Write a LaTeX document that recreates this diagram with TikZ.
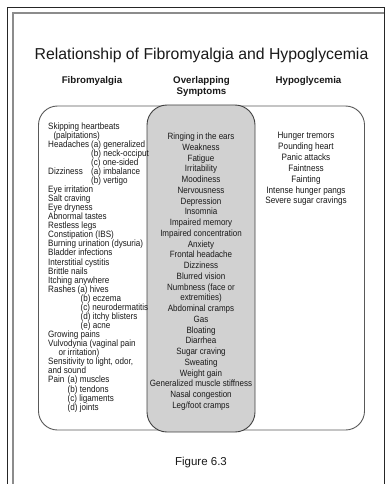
\documentclass[tikz,border=0pt]{standalone}
\usepackage{fontspec}
\setmainfont{Liberation Sans}
\newfontfamily\narrowfont{Liberation Sans}[FakeStretch=0.88]
\begin{document}
\begin{tikzpicture}[x=1pt,y=-1pt,
  txt/.style={inner sep=0pt,text=black!90},
  lcol/.style={txt,anchor=base west,font=\narrowfont\fontsize{9.2}{9.1}\selectfont},
  mcol/.style={txt,anchor=base,font=\narrowfont\fontsize{9.1}{10}\selectfont},
  rcol/.style={txt,anchor=base,font=\narrowfont\fontsize{9.3}{10}\selectfont},
  head/.style={txt,anchor=base,font=\bfseries\fontsize{9.7}{11}\selectfont},
  frameline/.style={black!85,line width=0.7pt},
  framegray/.style={black!45,line width=2pt},
  outerbox/.style={draw=black!65,line width=0.9pt,rounded corners=19pt},
  midbox/.style={draw=black!75,fill=black!18,line width=0.9pt,rounded corners=20pt},
]
\useasboundingbox (0,0) rectangle (386,484);
% frame
\draw[frameline] (7,484) -- (7,7) -- (384.5,7) -- (384.5,484);
\draw[framegray] (13,484) -- (13,13) -- (384,13);
% boxes
\draw[outerbox] (38.5,106) rectangle (364.5,430);
\draw[midbox] (147,105) rectangle (255,432);
% title and headers
\node[txt,anchor=base,font=\fontsize{15.8}{18}\selectfont] (title) at (201.5,59.5) {Relationship of Fibromyalgia and Hypoglycemia};
\node[head] (hfib) at (92,83.5) {Fibromyalgia};
\node[head] (hover) at (201.5,83.5) {Overlapping};
\node[head] (hsym) at (201.5,94.5) {Symptoms};
\node[head] (hhyp) at (308.5,83.5) {Hypoglycemia};
% left column
\foreach \x/\t [count=\i] in {
  {48/Skipping heartbeats},
  {53.3/(palpitations)},
  {48/\makebox[43pt][l]{Headaches}(a) generalized},
  {91/(b) neck-occiput},
  {91/(c) one-sided},
  {48/\makebox[43pt][l]{Dizziness}(a) imbalance},
  {91/(b) vertigo},
  {48/Eye irritation},
  {48/Salt craving},
  {48/Eye dryness},
  {48/Abnormal tastes},
  {48/Restless legs},
  {48/Constipation (IBS)},
  {48/Burning urination (dysuria)},
  {48/Bladder infections},
  {48/Interstitial cystitis},
  {48/Brittle nails},
  {48/Itching anywhere},
  {48/\makebox[29.5pt][l]{Rashes}(a) hives},
  {80.5/(b) eczema},
  {80.5/(c) neurodermatitis},
  {80.5/(d) itchy blisters},
  {80.5/(e) acne},
  {48/Growing pains},
  {48/Vulvodynia (vaginal pain},
  {58.3/or irritation)},
  {48/Sensitivity to light, odor,},
  {48/and sound},
  {48/\makebox[19.5pt][l]{Pain}(a) muscles},
  {67.5/(b) tendons},
  {67.5/(c) ligaments},
  {67.5/(d) joints}}
  \node[lcol] (fib\i) at (\x,{129+(\i-1)*9.07}) {\t};
% middle column
\foreach \t [count=\i] in {
  {Ringing in the ears},{Weakness},{Fatigue},{Irritability},{Moodiness},
  {Nervousness},{Depression},{Insomnia},{Impaired memory},
  {Impaired concentration},{Anxiety},{Frontal headache},{Dizziness},
  {Blurred vision},{Numbness (face or},{extremities)},{Abdominal cramps},
  {Gas},{Bloating},{Diarrhea},{Sugar craving},{Sweating},{Weight gain},
  {Generalized muscle stiffness},{Nasal congestion},{Leg/foot cramps}}
  \node[mcol] (ov\i) at (201,{139.5+(\i-1)*10.76}) {\t};
% right column
\foreach \t [count=\i] in {
  {Hunger tremors},{Pounding heart},{Panic attacks},{Faintness},
  {Fainting},{Intense hunger pangs},{Severe sugar cravings}}
  \node[rcol] (hy\i) at (306,{138.5+(\i-1)*10.9}) {\t};
% caption
\node[txt,anchor=base,font=\fontsize{11.5}{13}\selectfont] (fig) at (201,465) {Figure 6.3};
\end{tikzpicture}
\end{document}
